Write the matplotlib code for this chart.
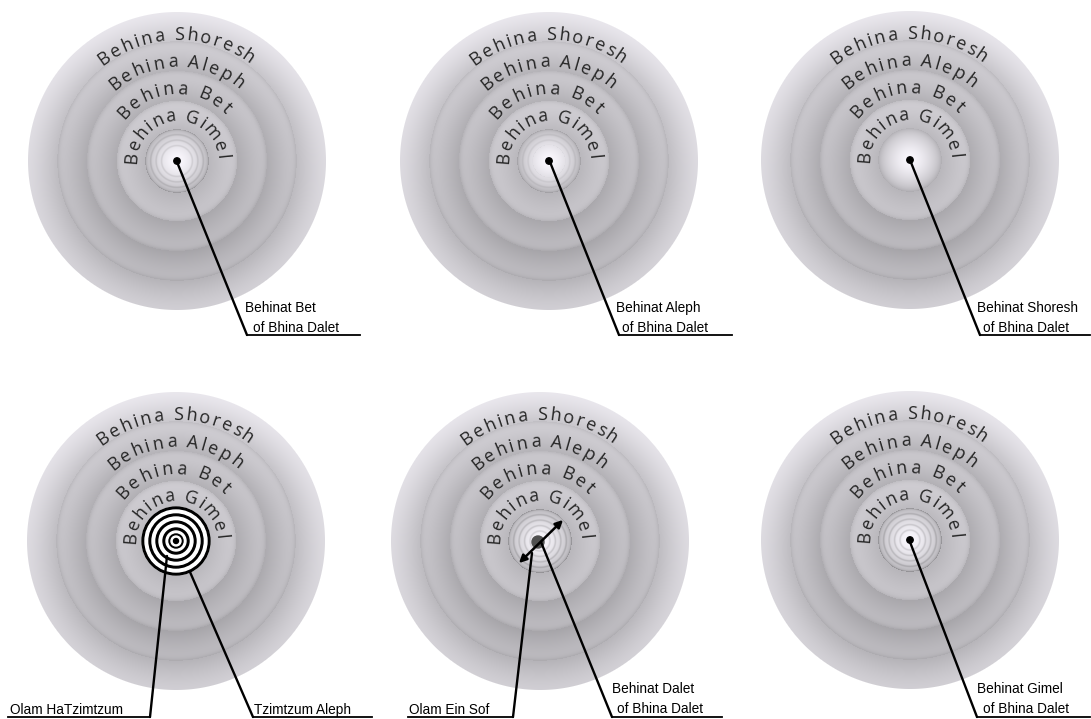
import numpy as np
import matplotlib
matplotlib.use('Agg')
import matplotlib.pyplot as plt
from matplotlib import font_manager
from matplotlib.font_manager import FontProperties
from matplotlib.patches import Circle, FancyArrowPatch

# ---------------- data ----------------
ring_names = ["Behina Shoresh", "Behina Aleph", "Behina Bet", "Behina Gimel"]
panel_titles = [
    ["Behinat Bet", "of Bhina Dalet"],
    ["Behinat Aleph", "of Bhina Dalet"],
    ["Behinat Shoresh", "of Bhina Dalet"],
    ["Olam HaTzimtzum", "Tzimtzum Aleph"],
    ["Olam Ein Sof", "Behinat Dalet", "of Bhina Dalet"],
    ["Behinat Gimel", "of Bhina Dalet"],
]
# strength of the fine inner rings per panel, and radius of white core
inner_ring_strength = [0.08, 0.05, 0.0, 0.0, 0.11, 0.11]
white_core = [13, 16, 30, 14, 6, 6]

# ---------------- layout ----------------
W, H = 1091, 719
R = 149
centers = [(177, 161), (549, 161), (910, 160), (176, 541), (540, 541), (910, 540)]
ring_edges = [150, 120, 90, 60, 32]
ring_hi = [0.88, 0.80, 0.79, 0.82]
ring_lo = [0.76, 0.69, 0.69, 0.74]
# baseline radius and angular span (start, end) of each curved label
arc_r = [121, 94, 67, 40]
arc_span = [(128, 53), (132, 49), (142, 44), (183, 3)]

fig = plt.figure(figsize=(W / 100, H / 100), dpi=100)
ax = fig.add_axes([0, 0, 1, 1])
ax.set_xlim(0, W)
ax.set_ylim(H, 0)
ax.axis('off')
renderer = fig.canvas.get_renderer()


def disk_rgba(strength, wcore):
    n = int(2 * R + 4)
    yy, xx = np.mgrid[0:n, 0:n] + 0.5
    dx = xx - n / 2
    dy = n / 2 - yy
    rp = np.hypot(dx, dy)
    r = rp * 150.0 / R
    th = np.arctan2(dy, dx)
    v = np.ones_like(r)
    for k in range(4):
        ro, ri = ring_edges[k], ring_edges[k + 1]
        m = (r <= ro + 0.5) & (r > ri)
        t = np.clip((ro - r) / (ro - ri), 0, 1)
        val = ring_hi[k] - (ring_hi[k] - ring_lo[k]) * t ** 1.3
        if k > 0:
            val = val - 0.07 * np.exp(-np.clip(ro - r, 0, None) / 2.5)
        v[m] = val[m]
    m = r <= 32
    rc = np.clip(r, 0, 32)
    base = 1.0 - 0.24 * (rc / 32) ** 1.4
    base = base - 0.06 * np.exp(-(32 - rc) / 2.5)
    rings = (0.5 + 0.5 * np.cos(2 * np.pi * (rc - 32) / 5.5)) ** 3
    base = base - strength * rings * (rc > wcore)
    v[m] = base[m]
    v = v + 0.05 * np.sin(th) * np.clip(r / 150, 0, 1)
    v = np.nan_to_num(np.clip(v, 0, 1), nan=0.8)
    alpha = np.clip(R - rp + 0.5, 0, 1)
    rgba = np.dstack([v * 0.985, v * 0.975, v * 1.0, alpha])
    return np.clip(rgba, 0, 1), n


arc_prop = FontProperties(family='Open Sans', size=13, weight='medium')


def text_w(s, prop):
    if s == "":
        return 0.0
    w, h, d = renderer.get_text_width_height_descent(s, prop, ismath=False)
    return w


def arc_text(s, cx, cy, rb, ts, te, prop, color):
    space_w = text_w("a a", prop) - text_w("aa", prop)
    ws = [space_w if c == " " else text_w(c, prop) for c in s]
    total = sum(ws)
    L = (rb + 4) * np.radians(ts - te)
    gap = (L - total) / (len(s) - 1)
    pos = 0.0
    for c, w in zip(s, ws):
        centre = pos + w / 2
        pos += w + gap
        if c == " ":
            continue
        th = ts - np.degrees(centre / (rb + 4))
        x = cx + rb * np.cos(np.radians(th))
        y = cy - rb * np.sin(np.radians(th))
        ax.text(x, y, c, fontproperties=prop, color=color, rotation=th - 90,
                rotation_mode='anchor', ha='center', va='baseline', zorder=5)


for i, (cx, cy) in enumerate(centers):
    img, n = disk_rgba(inner_ring_strength[i], white_core[i])
    ax.imshow(img, extent=(cx - n / 2, cx + n / 2, cy + n / 2, cy - n / 2),
              origin='upper', interpolation='bilinear', zorder=1)
    for k, name in enumerate(ring_names):
        arc_text(name, cx, cy, arc_r[k], arc_span[k][0], arc_span[k][1],
                 arc_prop, '#262626')

# black target in panel 4
tcx, tcy = centers[3]
ax.add_patch(Circle((tcx, tcy), 34, color='white', zorder=3))
for ro, ri in [(34, 31), (27, 24), (20, 17), (13, 10), (7, 5)]:
    ax.add_patch(Circle((tcx, tcy), ro, color='black', zorder=3))
    ax.add_patch(Circle((tcx, tcy), ri, color='white', zorder=3))
ax.add_patch(Circle((tcx, tcy), 2.5, color='black', zorder=3))

# centre marks
for i in [0, 1, 2, 5]:
    ax.add_patch(Circle(centers[i], 3.2, color='black', zorder=6))
ax.add_patch(Circle((538, 542), 6, color='#505050', zorder=6))
ax.add_patch(FancyArrowPatch((517, 565), (565, 518), arrowstyle='<|-|>',
                             mutation_scale=11, lw=1.8, color='black', zorder=7))

# pointer lines
names = {f.name for f in font_manager.fontManager.ttflist}
if 'Liberation Sans Narrow' in names:
    lab_prop = FontProperties(family='Liberation Sans Narrow', size=10.5)
else:
    lab_prop = FontProperties(family='Liberation Sans', size=9.8)

pointers = [
    [(177, 162), (247, 335), (360, 335)],
    [(550, 162), (619, 335), (732, 335)],
    [(910, 160), (980, 335), (1090, 335)],
    [(167, 556), (150, 717), (8, 717)],
    [(190, 572), (253, 717), (372, 717)],
    [(532, 553), (513, 717), (408, 717)],
    [(541, 542), (612, 717), (722, 717)],
    [(910, 542), (977, 717), (1090, 717)],
]
for p in pointers:
    xs = [q[0] for q in p]
    ys = [q[1] for q in p]
    ax.plot(xs[:2], ys[:2], color='black', lw=1.7, zorder=6, solid_capstyle='round')
    ax.plot(xs[1:], ys[1:], color='black', lw=1.3, zorder=6)

label_pos = [
    [(245, 312), (253, 332)],
    [(616, 312), (622, 332)],
    [(977, 312), (983, 332)],
    [(10, 714), (254, 714)],
    [(409, 714), (612, 693), (617, 713)],
    [(977, 693), (983, 713)],
]
for titles, poss in zip(panel_titles, label_pos):
    for t, (x, y) in zip(titles, poss):
        ax.text(x, y, t, fontproperties=lab_prop, color='black',
                ha='left', va='baseline', zorder=8)

fig.savefig('out.png', dpi=100)
